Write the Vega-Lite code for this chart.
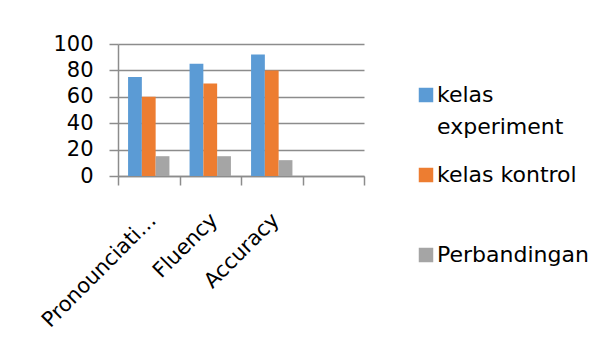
{
  "$schema": "https://vega.github.io/schema/vega-lite/v6.json",
  "width": 246,
  "height": 132,
  "autosize": {"type": "none"},
  "padding": {"left": 118, "top": 44, "right": 246, "bottom": 182},
  "background": "white",
  "data": {
    "values": [
      {"skill": "Pronounciation", "group": "kelas experiment", "value": 75},
      {"skill": "Pronounciation", "group": "kelas kontrol", "value": 60},
      {"skill": "Pronounciation", "group": "Perbandingan", "value": 15},
      {"skill": "Fluency", "group": "kelas experiment", "value": 85},
      {"skill": "Fluency", "group": "kelas kontrol", "value": 70},
      {"skill": "Fluency", "group": "Perbandingan", "value": 15},
      {"skill": "Accuracy", "group": "kelas experiment", "value": 92},
      {"skill": "Accuracy", "group": "kelas kontrol", "value": 80},
      {"skill": "Accuracy", "group": "Perbandingan", "value": 12}
    ]
  },
  "mark": {"type": "bar"},
  "encoding": {
    "x": {
      "field": "skill",
      "type": "nominal",
      "title": null,
      "scale": {"domain": ["Pronounciation", "Fluency", "Accuracy", " "], "paddingInner": 0, "paddingOuter": 0},
      "axis": {
        "domainColor": "#8c8c8c",
        "domainWidth": 1.5,
        "tickColor": "#8c8c8c",
        "tickWidth": 1.5,
        "tickSize": 9,
        "tickBand": "extent",
        "labelAngle": -45,
        "labelFontSize": 21,
        "labelPadding": 24,
        "labelOffset": -4,
        "labelLimit": 155,
        "grid": false
      }
    },
    "xOffset": {
      "field": "group",
      "type": "nominal",
      "scale": {"domain": ["kelas experiment", "kelas kontrol", "Perbandingan"], "paddingInner": 0, "paddingOuter": 0.73}
    },
    "y": {
      "field": "value",
      "type": "quantitative",
      "title": null,
      "scale": {"domain": [0, 100], "nice": false},
      "axis": {
        "values": [0, 20, 40, 60, 80, 100],
        "domainColor": "#8c8c8c",
        "domainWidth": 1.5,
        "tickColor": "#8c8c8c",
        "tickWidth": 1.5,
        "tickSize": 9,
        "gridColor": "#8c8c8c",
        "gridWidth": 1.5,
        "labelFontSize": 21,
        "labelPadding": 16
      }
    },
    "color": {
      "field": "group",
      "type": "nominal",
      "scale": {"domain": ["kelas experiment", "kelas kontrol", "Perbandingan"], "range": ["#5B9BD5", "#ED7D31", "#A5A5A5"]},
      "legend": {
        "title": null,
        "orient": "none",
        "legendX": 297,
        "legendY": 40,
        "symbolType": "square",
        "symbolSize": 210,
        "symbolStrokeWidth": 0,
        "labelFontSize": 22,
        "labelOffset": 0,
        "labelBaseline": "middle",
        "rowPadding": 26,
        "labelExpr": "datum.label == 'kelas experiment' ? ['kelas', 'experiment'] : [datum.label, '']"
      }
    }
  },
  "config": {
    "view": {"stroke": null},
    "font": "DejaVu Sans",
    "axis": {"labelFont": "DejaVu Sans", "labelColor": "#000000"},
    "legend": {"labelFont": "DejaVu Sans", "labelColor": "#000000", "symbolOpacity": 1},
    "style": {"guide-label": {"lineHeight": 32}}
  }
}
